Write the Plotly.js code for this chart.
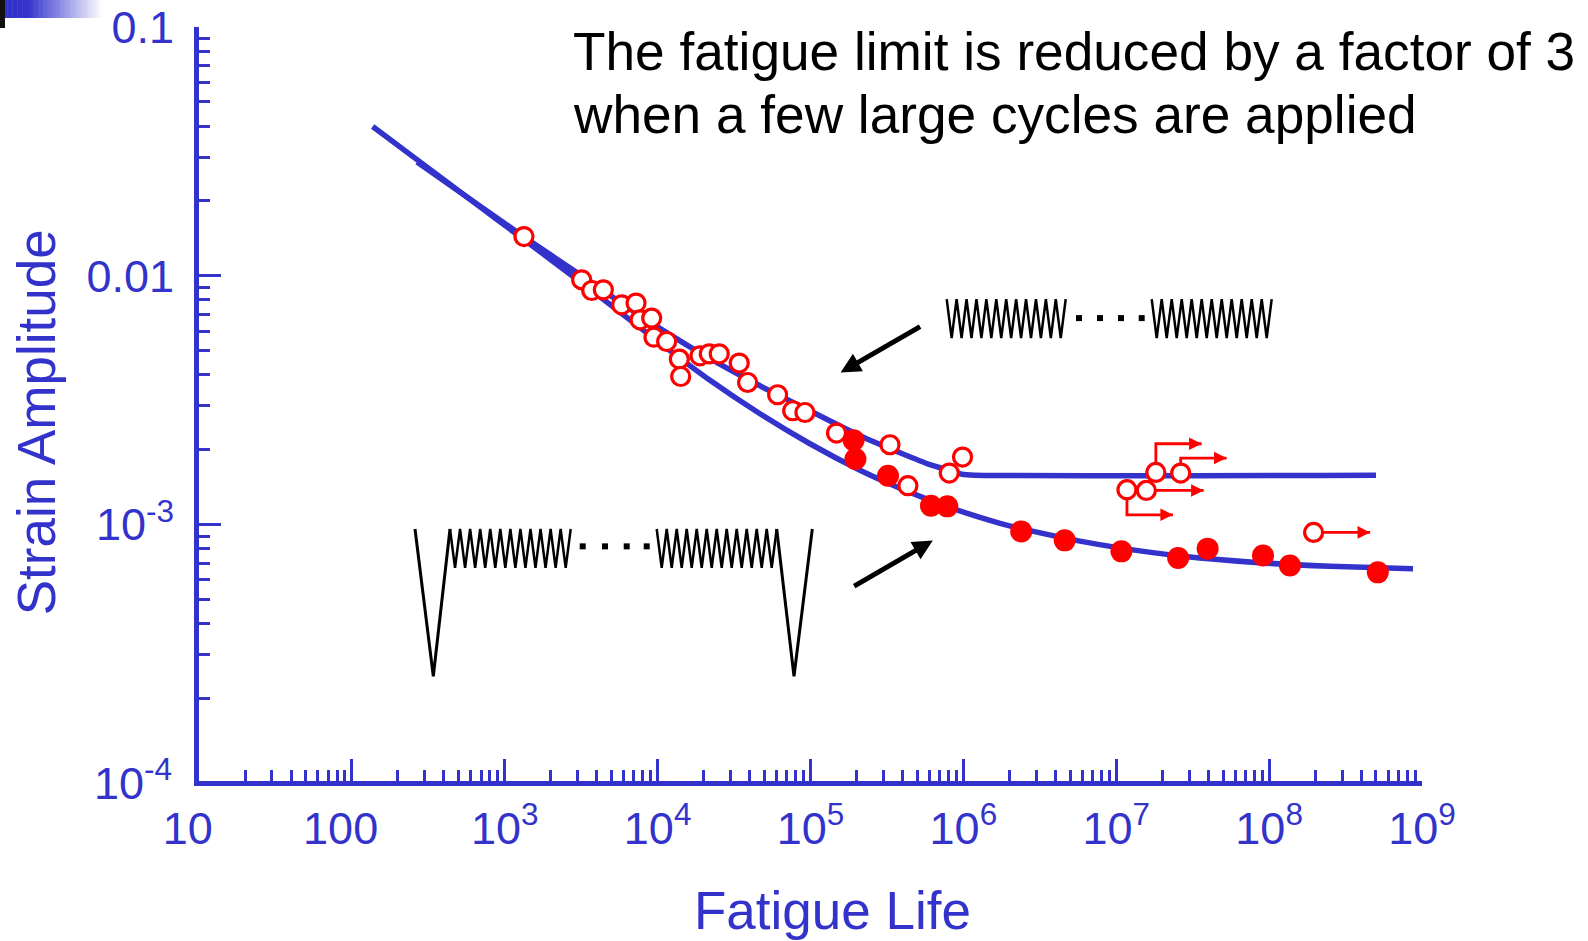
<!DOCTYPE html>
<html><head><meta charset="utf-8">
<script src="https://cdn.plot.ly/plotly-3.0.1.min.js"></script>
<style>html,body{margin:0;padding:0;background:#fff;}#chart{width:1588px;height:941px;}</style>
</head><body><div id="chart"></div>
<script>
// ---------- data ----------
const xTickVals = [10, 100, 1e3, 1e4, 1e5, 1e6, 1e7, 1e8, 1e9];
const xTickText = ['10\u2002', '100\u2002', '10<sup>3</sup>', '10<sup>4</sup>', '10<sup>5</sup>', '10<sup>6</sup>', '10<sup>7</sup>', '10<sup>8</sup>', '10<sup>9</sup>'];
const yTickVals = [1e-4, 1e-3, 0.01, 0.1];
const yTickText = ['10<sup>-4</sup>', '10<sup>-3</sup>', '0.01', '0.1'];

// constant-amplitude fit curve
const constAmpLife = [266.7, 1316, 3202, 7666, 18930, 46730, 85370, 210800, 384900, 604900, 817600, 979500, 1.191e6, 5.003e8];
const constAmpStrain = [0.02870, 0.01444, 0.009972, 0.006922, 0.004905, 0.003617, 0.003005, 0.002277, 0.001946, 0.001742, 0.001648, 0.001595, 0.001581, 0.001581];
// fit curve with a few large cycles
const largeCycLife = [136.8, 279, 592.6, 1316, 4200, 11514, 22005, 46730, 99240, 210800, 346500, 578100, 855300, 1.7363e6, 2.728e6, 5.793e6, 1.074e7, 2.734e7, 8.586e7, 2.502e8, 8.733e8];
const largeCycStrain = [0.03981, 0.02870, 0.02029, 0.01408, 0.008236, 0.005114, 0.003804, 0.002791, 0.002115, 0.001656, 0.001441, 0.001267, 0.001160, 0.001013, 0.0009461, 0.0008587, 0.0008050, 0.0007464, 0.0007036, 0.0006807, 0.0006658];

// constant amplitude tests (open circles)
const openLife = [1336, 3186, 3707, 4416, 5821, 7228, 7674, 9148, 9466, 11460, 13870, 14160, 18930, 21780, 25300, 34200, 38800, 60970, 76500, 92000, 148000, 331000, 433700, 809000, 988000];
const openStrain = [0.01438, 0.009638, 0.008730, 0.008790, 0.007648, 0.007774, 0.006654, 0.006763, 0.005671, 0.005446, 0.004628, 0.003941, 0.004771, 0.004861, 0.004861, 0.004461, 0.003727, 0.003328, 0.002870, 0.002824, 0.002334, 0.002095, 0.001435, 0.001612, 0.001870];

// tests with periodic large cycles (filled circles)
const filledLife = [191400, 196800, 321400, 613800, 785000, 2.39e6, 4.60e6, 1.081e7, 2.54e7, 3.96e7, 9.12e7, 1.368e8, 5.14e8];
const filledStrain = [0.002183, 0.001835, 0.001574, 0.001192, 0.001185, 0.0009400, 0.0008650, 0.0007813, 0.0007351, 0.0008013, 0.0007515, 0.0006851, 0.0006434];

// run-outs (open circles with arrows)
const runLife = [1.175e7, 1.574e7, 1.816e7, 2.64e7, 1.955e8];
const runStrain = [0.001383, 0.001373, 0.001622, 0.001612, 0.0009312];
const runArrowStrain = [0.001096, 0.001373, 0.002115, 0.001853, 0.0009312];
const runArrowEnd = [2.35e7, 3.73e7, 3.62e7, 5.27e7, 4.58e8];

// ---------- style / layout ----------
const BLUE = '#3333CC';
const FONT = 'Liberation Sans, Arial, Helvetica, sans-serif';
const W = 1588, H = 941, ML = 199, MR = 166, MT = 27, MB = 159.5;
const PW = W - ML - MR, PH = H - MT - MB;
const px = v => (v - ML) / PW;
const py = v => (H - MB - v) / PH;

function minorVals(k0, k1) {
  const out = [];
  for (let k = k0; k <= k1; k++) for (let m = 2; m <= 9; m++) out.push(m * Math.pow(10, k));
  return out;
}

// connectors for run-out arrows
const conX = [], conY = [];
runLife.forEach((x, i) => {
  conX.push(x, x, runArrowEnd[i], null);
  conY.push(runStrain[i], runArrowStrain[i], runArrowStrain[i], null);
});

const traces = [
  {x: largeCycLife, y: largeCycStrain, mode: 'lines', line: {color: BLUE, width: 5.5, shape: 'spline', smoothing: 0.6}, hoverinfo: 'skip'},
  {x: constAmpLife, y: constAmpStrain, mode: 'lines', line: {color: BLUE, width: 5.5, shape: 'spline', smoothing: 0.6}, hoverinfo: 'skip'},
  {x: conX, y: conY, mode: 'lines', line: {color: 'red', width: 2.8}, hoverinfo: 'skip'},
  {x: openLife.concat(runLife), y: openStrain.concat(runStrain), mode: 'markers',
   marker: {symbol: 'circle', size: 18, color: 'white', line: {color: 'red', width: 3.2}}},
  {x: filledLife, y: filledStrain, mode: 'markers', marker: {symbol: 'circle', size: 22, color: 'red', line: {width: 0}}}
];

// waveform sketches (illustrations, pixel-placed)
function zig(x0, x1, yTop, yBot, n) {
  let d = `M${px(x0)},${py(yTop)}`;
  const p = (x1 - x0) / n;
  for (let i = 0; i < n; i++) {
    d += ` L${px(x0 + p * (i + 0.5))},${py(yBot)} L${px(x0 + p * (i + 1))},${py(yTop)}`;
  }
  return d;
}
function poly(pts) {
  return pts.map((p, i) => (i ? 'L' : 'M') + px(p[0]) + ',' + py(p[1])).join(' ');
}
const shapes = [];
function addPath(d, w) {
  shapes.push({type: 'path', xref: 'paper', yref: 'paper', path: d, line: {color: 'black', width: w}, layer: 'above'});
}
function addDots(xs, yc) {
  xs.forEach(x => shapes.push({type: 'rect', xref: 'paper', yref: 'paper', x0: px(x - 3), x1: px(x + 3), y0: py(yc + 3), y1: py(yc - 3), fillcolor: 'black', line: {width: 0}}));
}
// upper sketch: constant amplitude
addPath(zig(946.7, 1065.7, 299.3, 338.3, 12), 2.5);
addDots([1079, 1100, 1121, 1141.7], 318.3);
addPath(zig(1151.7, 1271.7, 299.3, 338.3, 12), 2.5);
// lower sketch: with large cycles
addPath(poly([[415, 529.3], [433.3, 676.7], [450, 529.3]]), 3);
addPath(zig(450, 570.7, 529.3, 568.3, 12), 2.5);
addDots([582.7, 605, 626.7, 646.7], 546.7);
addPath(zig(656.7, 776.7, 529.3, 568.3, 12), 2.5);
addPath(poly([[776.7, 529.3], [794, 676.7], [812.3, 529.3]]), 3);

// corner decoration (slide header remnant)
shapes.push({type: 'rect', xref: 'paper', yref: 'paper', x0: px(0), x1: px(5), y0: py(28), y1: py(0), fillcolor: '#111111', line: {width: 0}});
const gN = 40;
for (let i = 0; i < gN; i++) {
  const a = 5 + i * (98 / gN), b = 5 + (i + 1) * (98 / gN) + 0.5;
  const mid = (a + b) / 2;
  const t = Math.max(0, Math.min(1, (mid - 28) / (103 - 28)));
  const r = Math.round(51 + (255 - 51) * t), bl = Math.round(204 + (255 - 204) * t);
  shapes.push({type: 'rect', xref: 'paper', yref: 'paper', x0: px(a), x1: px(b), y0: py(18), y1: py(0), fillcolor: `rgb(${r},${r},${bl})`, line: {width: 0}});
}

const TICKFONT = {family: FONT, size: 45, color: BLUE};
const annotations = [
  {text: 'The fatigue limit is reduced by a factor of 3', xref: 'paper', yref: 'paper', x: px(571), y: py(52), xanchor: 'left', yanchor: 'middle', showarrow: false, font: {family: FONT, size: 53.2, color: 'black'}},
  {text: 'when a few large cycles are applied', xref: 'paper', yref: 'paper', x: px(571), y: py(115), xanchor: 'left', yanchor: 'middle', showarrow: false, font: {family: FONT, size: 53.2, color: 'black'}},
  {text: 'Fatigue Life', xref: 'paper', yref: 'paper', x: px(832.5), y: py(911), xanchor: 'center', yanchor: 'middle', showarrow: false, font: {family: FONT, size: 53, color: BLUE}},
  {text: 'Strain Amplitude', xref: 'paper', yref: 'paper', x: px(36.5), y: py(422), xanchor: 'center', yanchor: 'middle', textangle: -90, showarrow: false, font: {family: FONT, size: 53, color: BLUE}},
  // lowest y tick label (sits on the x axis line, without its own tick mark)
  {text: yTickText[0], xref: 'paper', yref: 'y', x: px(174), y: Math.log10(yTickVals[0]), yshift: -6, xanchor: 'right', yanchor: 'middle', showarrow: false, font: TICKFONT},
  // black pointer arrows
  {text: '', xref: 'paper', yref: 'paper', x: px(840.6), y: py(372.7), ax: 81, ay: -46.7, showarrow: true, arrowhead: 2, arrowsize: 0.8, arrowwidth: 5, arrowcolor: 'black'},
  {text: '', xref: 'paper', yref: 'paper', x: px(932.8), y: py(540.8), ax: -80.1, ay: 46.6, showarrow: true, arrowhead: 2, arrowsize: 0.8, arrowwidth: 5, arrowcolor: 'black'}
];
// run-out arrowheads
runArrowEnd.forEach((xe, i) => {
  annotations.push({text: '', xref: 'x', yref: 'y', axref: 'x', ayref: 'y',
    x: Math.log10(xe), y: Math.log10(runArrowStrain[i]), ax: Math.log10(xe) - 0.08, ay: Math.log10(runArrowStrain[i]),
    showarrow: true, arrowhead: 2, arrowsize: 0.9, arrowwidth: 2.8, arrowcolor: 'red'});
});

const axisCommon = {
  type: 'log', showgrid: false, zeroline: false, showline: true, linecolor: BLUE, linewidth: 5,
  ticks: 'inside', ticklen: 22, tickwidth: 3, tickcolor: BLUE, tickmode: 'array',
  tickfont: TICKFONT
};

const layout = {
  width: W, height: H, margin: {l: ML, r: MR, t: MT, b: MB, pad: 0},
  paper_bgcolor: 'white', plot_bgcolor: 'white', showlegend: false,
  font: {family: FONT},
  xaxis: Object.assign({}, axisCommon, {
    range: [1, 9], tickvals: xTickVals, ticktext: xTickText, ticklabelstandoff: 4,
    minor: {ticks: 'inside', ticklen: 11, tickwidth: 3, tickcolor: BLUE, tickmode: 'array', tickvals: minorVals(1, 8), showgrid: false}
  }),
  yaxis: Object.assign({}, axisCommon, {
    range: [-4.03, -1], tickvals: yTickVals.slice(1), ticktext: yTickText.slice(1), ticklabelstandoff: 11,
    minor: {ticks: 'inside', ticklen: 11, tickwidth: 3, tickcolor: BLUE, tickmode: 'array', tickvals: minorVals(-4, -2), showgrid: false}
  }),
  shapes: shapes,
  annotations: annotations
};

Plotly.newPlot('chart', traces, layout, {displayModeBar: false, staticPlot: true});
</script>
</body></html>
